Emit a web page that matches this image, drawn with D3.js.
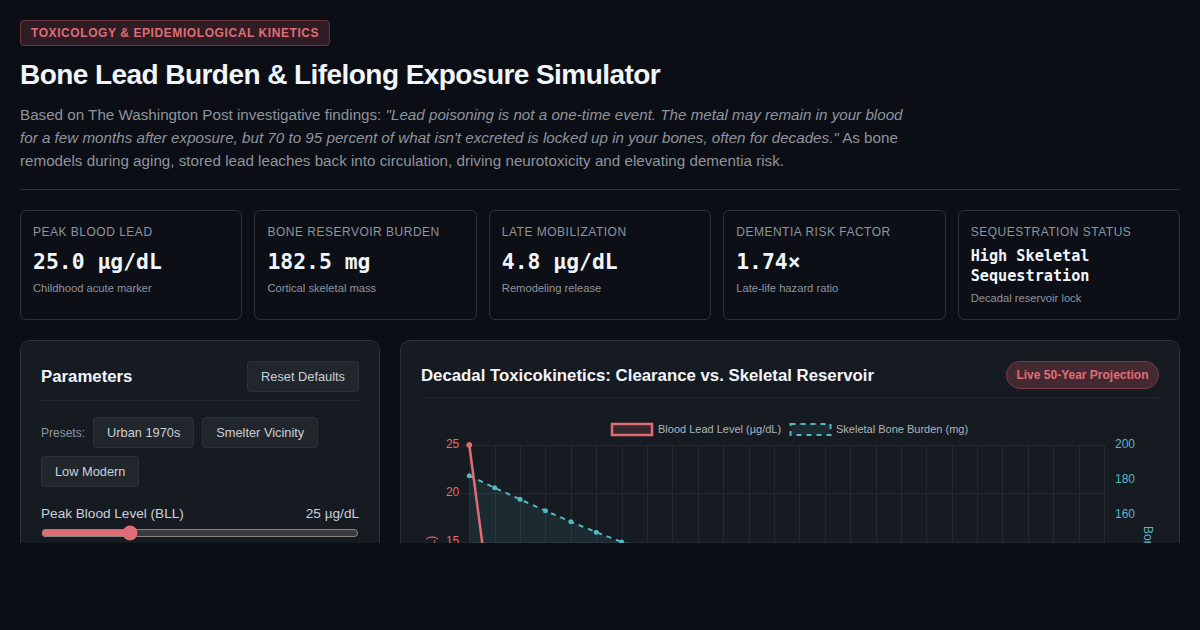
<!DOCTYPE html>
<html>
<head>
<meta charset="utf-8">
<script src="https://cdn.jsdelivr.net/npm/d3@7"></script>
<style>
* { box-sizing: border-box; }
html, body { margin: 0; height: 630px; overflow: hidden; background: #0b0e14; }
body { font-family: "Liberation Sans", Arial, sans-serif; color: #f0f6fc; }
#page { height: 543px; overflow: hidden; padding: 20px 20px 0; }
.tag { display: inline-block; height: 26px; line-height: 24px; padding: 0 10px; font-size: 12px; font-weight: bold; letter-spacing: .58px; color: #e06c75; background: #2e1d24; border: 1px solid #6d343c; border-radius: 4px; vertical-align: top; }
h1 { margin: 12px 0 0; font-size: 28px; line-height: 34px; letter-spacing: -.56px; font-weight: bold; }
.intro { margin: 11px 0 0; width: 900px; font-size: 15.2px; line-height: 23px; color: #8f949e; padding-bottom: 17px; }
.rule { border-top: 1px solid #2d3139; width: 1160px; }
.cards { display: flex; gap: 12px; margin-top: 20px; }
.card { flex: 1; height: 110px; padding: 14px 12px; border: 1px solid #2d3139; border-radius: 6px; background: #0c0f16; }
.card .lab { font-size: 12px; line-height: 15px; letter-spacing: .5px; color: #8f949e; }
.card .val { font-family: "DejaVu Sans Mono", monospace; font-weight: bold; font-size: 21.4px; line-height: 26px; margin-top: 9px; }
.card .val.small { font-size: 15.2px; line-height: 20px; margin-top: 6px; }
.card .sub { font-size: 11.2px; line-height: 14px; margin-top: 6px; color: #8f949e; }
.card .val.small + .sub { margin-top: 5px; }
.lower { display: flex; gap: 20px; margin-top: 20px; }
.panel { background: #161a21; border: 1px solid #2d3139; border-radius: 10px; padding: 20px; height: 400px; }
.left { width: 360px; flex: none; }
.right { flex: 1; }
.head { display: flex; justify-content: space-between; align-items: center; border-bottom: 1px solid #21252c; }
.left .head { height: 40px; padding-bottom: 8px; }
.right .head { height: 37px; padding-bottom: 8px; }
.right .title { position: relative; top: 1px; }
.title { font-size: 16.8px; font-weight: bold; }
.btn { font-size: 12.8px; line-height: 15px; padding: 7px 13px; height: 31px; color: #c9d1d9; background: #21252c; border: 1px solid #2d3139; border-radius: 4px; white-space: nowrap; }
.presets { display: flex; flex-wrap: wrap; gap: 8px; align-items: center; margin-top: 16px; }
.presets span { font-size: 12px; color: #8f949e; }
.param { display: flex; justify-content: space-between; font-size: 13.6px; margin-top: 19px; color: #c9d1d9; }
input[type=range] { display: block; width: 318px; margin: 4px 0 0; accent-color: #e06c75; height: 16px; }
.live { font-size: 12px; font-weight: bold; color: #e06c75; background: #432a32; border: 1px solid #7a3c44; border-radius: 14px; padding: 6px 9.5px; height: 28px; line-height: 14px; }
#chart { margin-top: 11px; }
.grid line { stroke: #242930; stroke-width: 1; }
text { font-family: "Liberation Sans", Arial, sans-serif; }
</style>
</head>
<body>
<div id="page">
  <div class="tag">TOXICOLOGY &amp; EPIDEMIOLOGICAL KINETICS</div>
  <h1>Bone Lead Burden &amp; Lifelong Exposure Simulator</h1>
  <p class="intro">Based on The Washington Post investigative findings: <em>"Lead poisoning is not a one-time event. The metal may remain in your blood for a few months after exposure, but 70 to 95 percent of what isn't excreted is locked up in your bones, often for decades."</em> As bone remodels during aging, stored lead leaches back into circulation, driving neurotoxicity and elevating dementia risk.</p>
  <div class="rule"></div>
  <div class="cards" id="cards"></div>
  <div class="lower">
    <div class="panel left">
      <div class="head"><div class="title">Parameters</div><div class="btn">Reset Defaults</div></div>
      <div class="presets"><span>Presets:</span><div class="btn">Urban 1970s</div><div class="btn">Smelter Vicinity</div><div class="btn">Low Modern</div></div>
      <div class="param"><div>Peak Blood Level (BLL)</div><div>25 µg/dL</div></div>
      <input type="range" min="5" max="80" value="25">
    </div>
    <div class="panel right">
      <div class="head"><div class="title">Decadal Toxicokinetics: Clearance vs. Skeletal Reservoir</div><div class="live">Live 50-Year Projection</div></div>
      <div id="chart"></div>
    </div>
  </div>
</div>
<script>
var cardLabels = ["PEAK BLOOD LEAD", "BONE RESERVOIR BURDEN", "LATE MOBILIZATION", "DEMENTIA RISK FACTOR", "SEQUESTRATION STATUS"];
var cardValues = ["25.0 µg/dL", "182.5 mg", "4.8 µg/dL", "1.74×", "High Skeletal Sequestration"];
var cardNotes = ["Childhood acute marker", "Cortical skeletal mass", "Remodeling release", "Late-life hazard ratio", "Decadal reservoir lock"];

var years = [0, 2, 4, 6, 8, 10, 12, 14, 16, 18, 20, 22, 24, 26, 28, 30, 32, 34, 36, 38, 40, 42, 44, 46, 48, 50];
// only the start of each series shows above the cut-off
var bloodLead = [25, 5.2];
var boneBurden = [182.5, 175.6, 169, 162.5, 156.2, 150.3, 144.7, 139.4];
var leftTicks = [25, 20, 15, 10, 5, 0];
var rightTicks = [200, 180, 160, 140, 120, 100, 80];
var legendNames = ["Blood Lead Level (µg/dL)", "Skeletal Bone Burden (mg)"];

var red = "#e06c75";
var teal = "#56b6c2";

function drawCards() {
    var card = d3.select("#cards").selectAll("div.card")
        .data(cardLabels)
        .enter()
        .append("div")
        .attr("class", "card");

    card.append("div").attr("class", "lab").text(function (d) { return d; });
    card.append("div")
        .attr("class", function (d, i) { return i == 4 ? "val small" : "val"; })
        .text(function (d, i) { return cardValues[i]; });
    card.append("div").attr("class", "sub").text(function (d, i) { return cardNotes[i]; });
}

function graficar() {
    var w = 738;
    var h = 300;
    var left = 48.3, right = 55, top = 36, bottom = 22;

    var svg = d3.select("#chart")
        .append("svg")
        .attr("width", w)
        .attr("height", h)
        .style("display", "block")
        .style("overflow", "visible");

    var x = d3.scalePoint().domain(years).range([left, w - right]);
    var yLeft = d3.scaleLinear().domain([0, 25]).range([h - bottom, top]);
    var yRight = d3.scaleLinear().domain([62, 200]).range([h - bottom, top]);

    var grid = svg.append("g").attr("class", "grid");

    grid.selectAll("line.v")
        .data(years)
        .enter()
        .append("line")
        .attr("class", "v")
        .attr("x1", function (d) { return Math.round(x(d)) + 0.5; })
        .attr("x2", function (d) { return Math.round(x(d)) + 0.5; })
        .attr("y1", top)
        .attr("y2", h - bottom);

    grid.selectAll("line.h")
        .data(leftTicks)
        .enter()
        .append("line")
        .attr("class", "h")
        .attr("x1", left - 8)
        .attr("x2", w - right)
        .attr("y1", function (d) { return Math.round(yLeft(d)) + 0.5; })
        .attr("y2", function (d) { return Math.round(yLeft(d)) + 0.5; });

    svg.selectAll("text.tl")
        .data(leftTicks)
        .enter()
        .append("text")
        .attr("class", "tl")
        .text(function (d) { return d; })
        .attr("x", left - 10)
        .attr("y", function (d) { return yLeft(d) + 3; })
        .attr("text-anchor", "end")
        .attr("font-size", 12)
        .attr("fill", red);

    svg.selectAll("text.tr")
        .data(rightTicks)
        .enter()
        .append("text")
        .attr("class", "tr")
        .text(function (d) { return d; })
        .attr("x", w - right + 11)
        .attr("y", function (d) { return yRight(d) + 3; })
        .attr("font-size", 12)
        .attr("fill", teal);

    svg.append("text")
        .text("BLL (µg/dL)")
        .attr("transform", "translate(" + 14 + "," + (top + (h - bottom - top) / 2 + 1) + ") rotate(-90)")
        .attr("text-anchor", "middle")
        .attr("font-size", 12)
        .attr("fill", red);

    svg.append("text")
        .text("Bone Burden (mg)")
        .attr("transform", "translate(" + (w - 15) + "," + (top + (h - bottom - top) / 2 + 9) + ") rotate(90)")
        .attr("text-anchor", "middle")
        .attr("font-size", 12)
        .attr("fill", teal);

    var boneLine = d3.line()
        .x(function (d, i) { return x(years[i]); })
        .y(function (d) { return yRight(d); });

    var boneArea = d3.area()
        .x(function (d, i) { return x(years[i]); })
        .y0(h - bottom)
        .y1(function (d) { return yRight(d); });

    svg.append("path")
        .attr("d", boneArea(boneBurden))
        .attr("fill", teal)
        .attr("fill-opacity", 0.1);

    svg.append("path")
        .attr("d", boneLine(boneBurden))
        .attr("fill", "none")
        .attr("stroke", teal)
        .attr("stroke-width", 2)
        .attr("stroke-dasharray", "5,5");

    svg.selectAll("circle.bone")
        .data(boneBurden)
        .enter()
        .append("circle")
        .attr("class", "bone")
        .attr("cx", function (d, i) { return x(years[i]); })
        .attr("cy", function (d) { return yRight(d); })
        .attr("r", 2.5)
        .attr("fill", teal);

    var bloodLine = d3.line()
        .x(function (d, i) { return x(years[i]); })
        .y(function (d) { return yLeft(d); });

    svg.append("path")
        .attr("d", bloodLine(bloodLead))
        .attr("fill", "none")
        .attr("stroke", red)
        .attr("stroke-width", 2.5);

    svg.selectAll("circle.blood")
        .data(bloodLead)
        .enter()
        .append("circle")
        .attr("class", "blood")
        .attr("cx", function (d, i) { return x(years[i]); })
        .attr("cy", function (d) { return yLeft(d); })
        .attr("r", 2.5)
        .attr("fill", red)
        .attr("stroke", red)
        .attr("stroke-width", 1);

    // legend boxes, same shape as the line + fill of each series
    var legend = svg.append("g");
    var legendX = [191, 369.5];
    var legendColor = [red, teal];

    legend.selectAll("rect")
        .data(legendNames)
        .enter()
        .append("rect")
        .attr("x", function (d, i) { return legendX[i]; })
        .attr("y", 15)
        .attr("width", 40)
        .attr("height", 11)
        .attr("fill", function (d, i) { return legendColor[i]; })
        .attr("fill-opacity", function (d, i) { return i == 0 ? 0.15 : 0.1; })
        .attr("stroke", function (d, i) { return legendColor[i]; })
        .attr("stroke-width", function (d, i) { return i == 0 ? 2.5 : 2; })
        .attr("stroke-dasharray", function (d, i) { return i == 0 ? null : "5,5"; });

    legend.selectAll("text")
        .data(legendNames)
        .enter()
        .append("text")
        .text(function (d) { return d; })
        .attr("x", function (d, i) { return Math.floor(legendX[i]) + 46; })
        .attr("y", 24)
        .attr("font-size", 11)
        .attr("fill", "#adb5bd");
}

drawCards();
graficar();
</script>
</body>
</html>
